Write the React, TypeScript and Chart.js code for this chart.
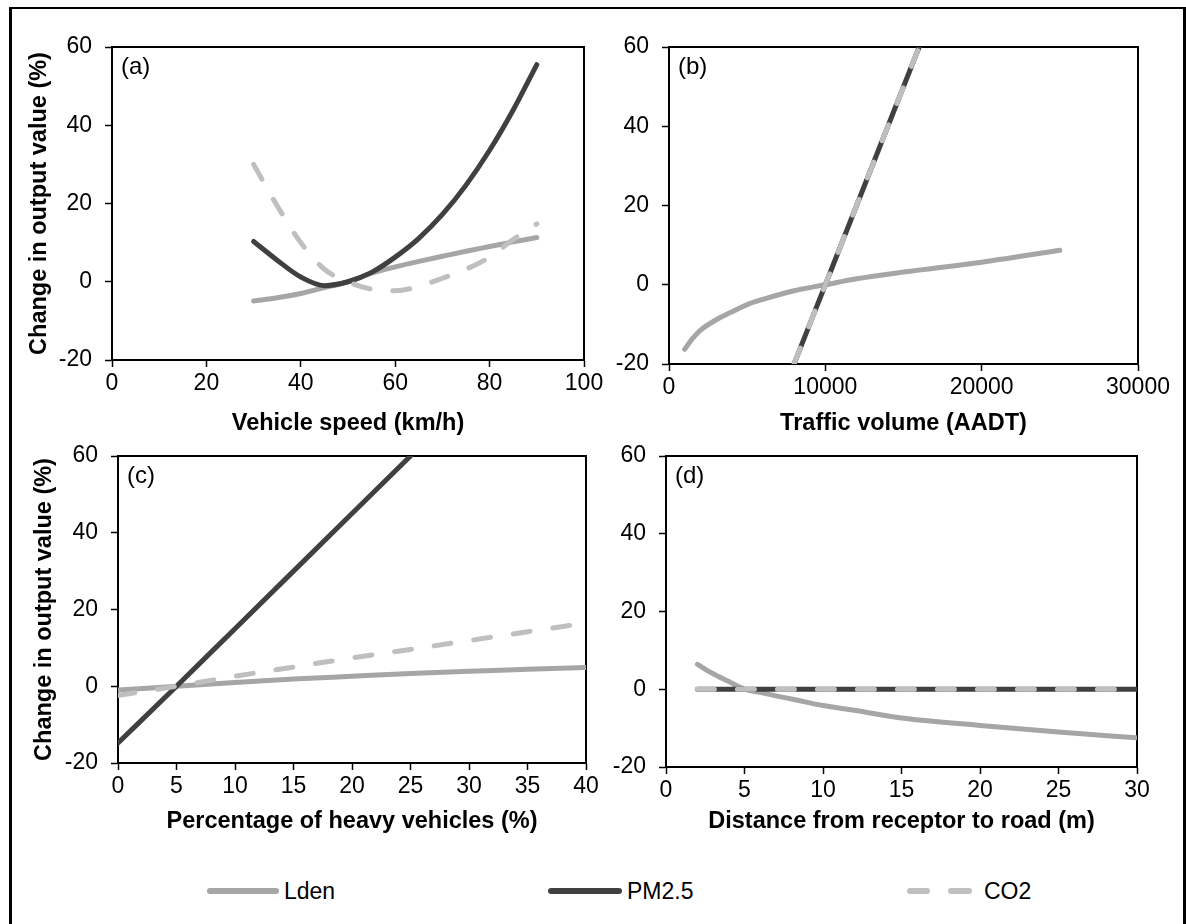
import React, { useEffect, useRef } from "react";
import { Chart, registerables } from "chart.js";

Chart.register(...registerables);

const FONT = "'Liberation Sans', Arial, Helvetica, sans-serif";
Chart.defaults.font.family = FONT;

// ---------- series ----------
const SERIES_NAMES = ["Lden", "PM2.5", "CO2"];
const SERIES_COLORS = ["#a6a6a6", "#404040", "#bfbfbf"];

// (a) vehicle speed (km/h)
const speedKmh = [30, 35, 40, 45, 50, 55, 60, 65, 70, 75, 80, 85, 90];
const speedLden = [-4.9, -4.1, -3.0, -1.5, 0.0, 2.2, 3.8, 5.2, 6.5, 7.8, 9.0, 10.2, 11.3];
const speedPM25 = [10.3, 5.5, 1.2, -1.0, 0.0, 2.4, 6.3, 11.1, 17.2, 24.7, 33.6, 43.9, 55.5];
const speedCO2 = [30.0, 19.4, 10.0, 3.2, 0.0, -1.9, -2.3, -1.2, 0.9, 3.2, 6.3, 10.8, 14.8];

// (b) traffic volume (AADT)
const aadtLdenX = [1000, 1500, 2000, 3000, 4000, 5000, 6000, 8000, 10000, 12000, 15000, 20000, 25000];
const aadtLden = [-16.3, -13.6, -11.5, -8.9, -6.9, -5.0, -3.7, -1.5, 0.0, 1.5, 3.2, 5.7, 8.7];
const aadtLineX = [8000, 10000, 16000];
const aadtPM25 = [-20, 0, 60];
const aadtCO2 = [-20, 0, 60];

// (c) percentage of heavy vehicles (%)
const hgvPct = [0, 5, 10, 15, 20, 25, 30, 35, 40];
const hgvLden = [-1.0, 0.0, 1.0, 1.9, 2.6, 3.3, 3.9, 4.4, 4.9];
const hgvPctPM = [0, 5, 10, 15, 20, 25];
const hgvPM25 = [-14.8, 0, 15, 30, 45, 60];
const hgvCO2 = [-2.4, 0.0, 2.6, 5.0, 7.4, 9.6, 11.9, 14.2, 16.5];

// (d) distance from receptor to road (m)
const distM = [2, 3, 4, 5, 6, 7, 8, 10, 12, 15, 20, 25, 30];
const distLden = [6.4, 4.0, 2.0, 0.0, -0.8, -1.7, -2.5, -4.2, -5.4, -7.4, -9.3, -11.0, -12.5];
const distPM25 = [0, 0, 0, 0, 0, 0, 0, 0, 0, 0, 0, 0, 0];
const distCO2 = [0, 0, 0, 0, 0, 0, 0, 0, 0, 0, 0, 0, 0];

// axes
const Y_MIN = -20;
const Y_MAX = 60;
const Y_STEP = 20;
const Y_TITLE = "Change in output value (%)";

const TICK_SIZE = 23;
const TITLE_SIZE = 23.5;
const LETTER_SIZE = 24;

const PANELS: any[] = [
  {
    letter: "(a)",
    xTitle: "Vehicle speed (km/h)",
    yTitle: Y_TITLE,
    xMin: 0, xMax: 100, xStep: 20,
    series: [
      { x: speedKmh, y: speedLden },
      { x: speedKmh, y: speedPM25 },
      { x: speedKmh, y: speedCO2 },
    ],
    canvas: { left: 12, top: 10, width: 600, height: 440 },
    plot: { left: 112, top: 47, right: 584, bottom: 360 },
    xTitleMid: 424,
    yTitleMid: 40,
  },
  {
    letter: "(b)",
    xTitle: "Traffic volume (AADT)",
    yTitle: null,
    xMin: 0, xMax: 30000, xStep: 10000,
    series: [
      { x: aadtLdenX, y: aadtLden },
      { x: aadtLineX, y: aadtPM25 },
      { x: aadtLineX, y: aadtCO2 },
    ],
    canvas: { left: 596, top: 10, width: 584, height: 440 },
    plot: { left: 669, top: 47, right: 1138, bottom: 364 },
    xTitleMid: 424,
    yTitleMid: null,
  },
  {
    letter: "(c)",
    xTitle: "Percentage of heavy vehicles (%)",
    yTitle: Y_TITLE,
    xMin: 0, xMax: 40, xStep: 5,
    series: [
      { x: hgvPct, y: hgvLden },
      { x: hgvPctPM, y: hgvPM25 },
      { x: hgvPct, y: hgvCO2 },
    ],
    canvas: { left: 12, top: 436, width: 600, height: 414 },
    plot: { left: 118, top: 456, right: 586, bottom: 763 },
    xTitleMid: 822,
    yTitleMid: 45,
  },
  {
    letter: "(d)",
    xTitle: "Distance from receptor to road (m)",
    yTitle: null,
    xMin: 0, xMax: 30, xStep: 5,
    series: [
      { x: distM, y: distLden },
      { x: distM, y: distPM25 },
      { x: distM, y: distCO2 },
    ],
    canvas: { left: 596, top: 436, width: 584, height: 414 },
    plot: { left: 666, top: 456, right: 1137, bottom: 767 },
    xTitleMid: 822,
    yTitleMid: null,
  },
];

const LEGEND_LAYOUT = [
  { swatchLeft: 207, swatchWidth: 72, textLeft: 284 },
  { swatchLeft: 548, swatchWidth: 74, textLeft: 627 },
  { swatchLeft: 907, swatchWidth: 65, textLeft: 984 },
];
const LEGEND_Y = 891;

function makeConfig(p: any) {
  const c = p.canvas;
  const padTop = p.plot.top - c.top;
  const padRight = c.left + c.width - p.plot.right;
  const yBoxW = p.plot.left - c.left;
  const xBoxH = c.top + c.height - p.plot.bottom;
  const halfTitle = (TITLE_SIZE * 1.2) / 2;
  const xTitlePadBottom = c.top + c.height - p.xTitleMid - halfTitle;
  const yTitlePadTop = p.yTitleMid != null ? p.yTitleMid - c.left - halfTitle : 0;

  const datasets = p.series.map((s: any, i: number) => ({
    label: SERIES_NAMES[i],
    data: s.x.map((x: number, j: number) => ({ x, y: s.y[j] })),
    borderColor: SERIES_COLORS[i],
    backgroundColor: SERIES_COLORS[i],
    borderWidth: 5,
    borderDash: i === 2 ? [17, 23] : [],
    borderCapStyle: "round",
    borderJoinStyle: "round",
    pointRadius: 0,
    pointHoverRadius: 0,
    cubicInterpolationMode: "monotone",
    fill: false,
    clip: 0,
    order: 3 - i,
  }));

  const gridOpts = {
    display: true,
    drawOnChartArea: false,
    drawTicks: true,
    tickLength: 7,
    tickWidth: 1.5,
    tickColor: "#000",
    color: "#000",
  };
  const borderOpts = { display: true, color: "#000", width: 2 };

  const framePlugin = {
    id: "frame" + p.letter,
    beforeDatasetsDraw(chart: any) {
      const { ctx, chartArea: a } = chart;
      ctx.save();
      ctx.strokeStyle = "#000";
      ctx.lineWidth = 2;
      ctx.strokeRect(a.left, a.top, a.right - a.left, a.bottom - a.top);
      ctx.restore();
    },
    afterDraw(chart: any) {
      const { ctx, chartArea: a } = chart;
      ctx.save();
      ctx.fillStyle = "#000";
      ctx.font = `${LETTER_SIZE}px ${FONT}`;
      ctx.textAlign = "left";
      ctx.textBaseline = "middle";
      ctx.fillText(p.letter, a.left + 9, a.top + 20);
      ctx.restore();
    },
  };

  return {
    type: "line",
    data: { datasets },
    options: {
      animation: false,
      responsive: false,
      events: [],
      layout: { padding: { left: 0, top: padTop, right: padRight, bottom: 0 } },
      plugins: { legend: { display: false }, tooltip: { enabled: false } },
      scales: {
        x: {
          type: "linear",
          position: "bottom",
          min: p.xMin,
          max: p.xMax,
          ticks: {
            stepSize: p.xStep,
            autoSkip: false,
            maxRotation: 0,
            padding: 3,
            color: "#000",
            font: { size: TICK_SIZE },
            callback: (v: any) => String(v),
          },
          grid: gridOpts,
          border: borderOpts,
          title: {
            display: true,
            text: p.xTitle,
            color: "#000",
            font: { size: TITLE_SIZE, weight: "bold" },
            padding: { top: 0, bottom: xTitlePadBottom },
          },
          afterFit: (s: any) => {
            s.height = xBoxH;
            s.paddingLeft = 0;
            s.paddingRight = 0;
          },
        },
        y: {
          type: "linear",
          position: "left",
          min: Y_MIN,
          max: Y_MAX,
          ticks: {
            stepSize: Y_STEP,
            autoSkip: false,
            padding: 13,
            color: "#000",
            font: { size: TICK_SIZE },
            callback: (v: any) => String(v),
          },
          grid: gridOpts,
          border: borderOpts,
          title: {
            display: p.yTitle != null,
            text: p.yTitle || "",
            color: "#000",
            font: { size: TITLE_SIZE, weight: "bold" },
            padding: { top: yTitlePadTop, bottom: 0 },
          },
          afterFit: (s: any) => {
            s.width = yBoxW;
            s.paddingTop = 0;
            s.paddingBottom = 0;
          },
        },
      },
    },
    plugins: [framePlugin],
  };
}

function Panel({ spec }: { spec: any }) {
  const ref = useRef<HTMLCanvasElement | null>(null);
  useEffect(() => {
    if (!ref.current) return;
    const chart = new Chart(ref.current, makeConfig(spec) as any);
    return () => chart.destroy();
  }, [spec]);
  const c = spec.canvas;
  return (
    <canvas
      ref={ref}
      width={c.width}
      height={c.height}
      style={{ position: "absolute", left: c.left, top: c.top, width: c.width, height: c.height }}
    />
  );
}

export default function App() {
  return (
    <div
      style={{
        position: "fixed",
        left: 0,
        top: 0,
        width: 1186,
        height: 924,
        overflow: "hidden",
        background: "#fff",
        fontFamily: FONT,
      }}
    >
      <div
        style={{
          position: "absolute",
          left: 9,
          top: 7,
          width: 1177,
          height: 1000,
          boxSizing: "border-box",
          borderStyle: "solid",
          borderColor: "#000",
          borderWidth: "2px 3px 3px 3px",
        }}
      />
      {PANELS.map((p) => (
        <Panel key={p.letter} spec={p} />
      ))}
      {SERIES_NAMES.map((name, i) => {
        const L = LEGEND_LAYOUT[i];
        const swatches =
          i === 2
            ? [
                { left: L.swatchLeft, width: 23 },
                { left: L.swatchLeft + 41, width: 24 },
              ]
            : [{ left: L.swatchLeft, width: L.swatchWidth }];
        return (
          <React.Fragment key={name}>
            {swatches.map((s, k) => (
              <div
                key={k}
                style={{
                  position: "absolute",
                  left: s.left,
                  top: LEGEND_Y - 3,
                  width: s.width,
                  height: 6,
                  borderRadius: 3,
                  background: SERIES_COLORS[i],
                }}
              />
            ))}
            <div
              style={{
                position: "absolute",
                left: L.textLeft,
                top: LEGEND_Y - 13,
                fontSize: TICK_SIZE,
                lineHeight: "26px",
                color: "#000",
                whiteSpace: "nowrap",
              }}
            >
              {name}
            </div>
          </React.Fragment>
        );
      })}
    </div>
  );
}
